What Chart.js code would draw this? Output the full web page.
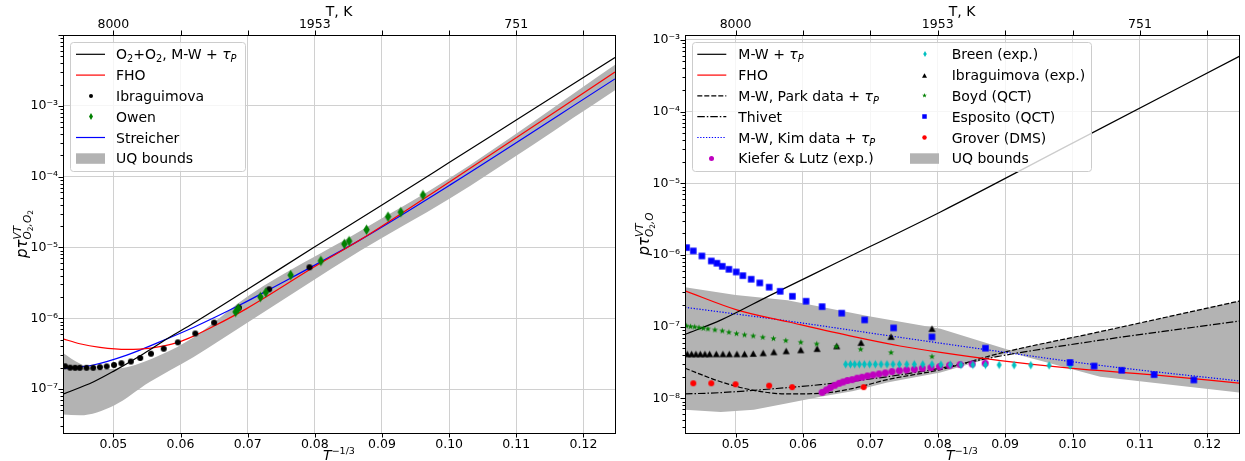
<!DOCTYPE html>
<html>
<head>
<meta charset="utf-8">
<script src="https://cdn.jsdelivr.net/npm/chart.js@4.4.1/dist/chart.umd.min.js"></script>
<style>
  html, body { margin: 0; padding: 0; background: #fff; }
  #wrap { position: relative; width: 1245px; height: 461px; }
  canvas { position: absolute; top: 0; }
</style>
</head>
<body>
<div id="wrap">
  <canvas id="left" width="622" height="461" style="left:0"></canvas>
  <canvas id="right" width="623" height="461" style="left:622px"></canvas>
</div>
<script>
// ===== AXES =====
const xTickVals = [0.05, 0.06, 0.07, 0.08, 0.09, 0.10, 0.11, 0.12];
const topTickPos = [0.05, 0.08, 0.11];
const topTickText = ['8000', '1953', '751'];
const leftYTicks = [1e-7, 1e-6, 1e-5, 1e-4, 1e-3];
const rightYTicks = [1e-8, 1e-7, 1e-6, 1e-5, 1e-4, 1e-3];

// ===== LEFT PANEL: O2 + O2 =====
const mwO2X = [0.0425, 0.0470, 0.0500, 0.0545, 0.0580, 0.0619, 0.0700, 0.0800, 0.0900, 0.1000, 0.1100, 0.1247];
const mwO2Y = [8.5e-8, 1.26e-7, 1.78e-7, 3.16e-7, 5.13e-7, 8.5e-7, 2.57e-6, 1.02e-5, 3.98e-5, 1.58e-4, 6.3e-4, 4.8e-3];
const fhoO2X = [0.0425, 0.045, 0.048, 0.052, 0.0556, 0.0596, 0.0622, 0.065, 0.0699, 0.080, 0.0867, 0.1001, 0.1247];
const fhoO2Y = [5.13e-7, 4.37e-7, 3.89e-7, 3.63e-7, 3.8e-7, 4.57e-7, 5.75e-7, 7.76e-7, 1.38e-6, 5.37e-6, 1.27e-5, 8.5e-5, 3.0e-3];
const streicherX = [0.0425, 0.047, 0.052, 0.057, 0.0619, 0.0689, 0.0733, 0.0867, 0.1001, 0.1247];
const streicherY = [1.95e-7, 2.19e-7, 3.02e-7, 4.68e-7, 7.41e-7, 1.55e-6, 2.57e-6, 1.27e-5, 7.59e-5, 2.4e-3];
const uqO2UpX = [0.0425, 0.045, 0.0473, 0.052, 0.057, 0.0619, 0.0703, 0.0867, 0.1001, 0.1247];
const uqO2UpY = [3.24e-7, 2.29e-7, 1.91e-7, 2.04e-7, 3.02e-7, 5.37e-7, 2.14e-6, 1.70e-5, 9.55e-5, 3.8e-3];
const uqO2LoX = [0.0425, 0.045, 0.0501, 0.0554, 0.0619, 0.070, 0.0867, 0.1001, 0.1247];
const uqO2LoY = [4.37e-8, 4.27e-8, 5.89e-8, 1.26e-7, 2.82e-7, 8.7e-7, 8.9e-6, 4.9e-5, 1.66e-3];
const ibrO2X = [0.0428, 0.04356, 0.0443, 0.0450, 0.0460, 0.0470, 0.0480, 0.0490, 0.0501, 0.0512, 0.0526, 0.0540, 0.0556, 0.0575, 0.0596, 0.0622, 0.0650, 0.0687, 0.0732, 0.0792];
const ibrO2Y = [2.1e-7, 2.01e-7, 2.0e-7, 2.0e-7, 2.0e-7, 2.0e-7, 2.04e-7, 2.09e-7, 2.19e-7, 2.32e-7, 2.45e-7, 2.75e-7, 3.16e-7, 3.72e-7, 4.57e-7, 6.1e-7, 8.7e-7, 1.41e-6, 2.57e-6, 5.25e-6];
const owenX = [0.0682, 0.0686, 0.0719, 0.0727, 0.0764, 0.0809, 0.0844, 0.0851, 0.0877, 0.0909, 0.0928, 0.0961];
const owenY = [1.23e-6, 1.38e-6, 2.0e-6, 2.32e-6, 4.07e-6, 6.46e-6, 1.12e-5, 1.23e-5, 1.78e-5, 2.72e-5, 3.16e-5, 5.5e-5];

// ===== RIGHT PANEL: O2 + O =====
const mwOX = [0.0425, 0.0478, 0.0552, 0.065, 0.0804, 0.100, 0.1249];
const mwOY = [7.8e-8, 1.23e-7, 2.75e-7, 7.76e-7, 3.98e-6, 3.63e-5, 6.0e-4];
const fhoOX = [0.0425, 0.0503, 0.0577, 0.0675, 0.0744, 0.0804, 0.0893, 0.0996, 0.1121, 0.1249];
const fhoOY = [3.16e-7, 1.70e-7, 1.17e-7, 7.24e-8, 5.37e-8, 4.37e-8, 3.35e-8, 2.63e-8, 2.12e-8, 1.62e-8];
const parkX = [0.0425, 0.0478, 0.0527, 0.0577, 0.0626, 0.0675, 0.0725, 0.0804, 0.0893, 0.1041, 0.1249];
const parkY = [2.63e-8, 1.70e-8, 1.29e-8, 1.15e-8, 1.17e-8, 1.38e-8, 1.82e-8, 2.51e-8, 4.27e-8, 8.5e-8, 2.29e-7];
const thivetX = [0.0425, 0.0478, 0.0552, 0.0626, 0.0725, 0.0804, 0.0893, 0.1041, 0.1249];
const thivetY = [1.15e-8, 1.20e-8, 1.35e-8, 1.55e-8, 2.0e-8, 2.63e-8, 3.89e-8, 6.46e-8, 1.20e-7];
const kimX = [0.0425, 0.0577, 0.0744, 0.0893, 0.1041, 0.1249];
const kimY = [1.86e-7, 1.20e-7, 7.08e-8, 4.47e-8, 2.88e-8, 1.74e-8];
const uqOUpX = [0.0425, 0.050, 0.0577, 0.070, 0.0804, 0.0907, 0.1041, 0.1249];
const uqOUpY = [3.55e-7, 2.75e-7, 2.34e-7, 1.38e-7, 9.3e-8, 4.68e-8, 8.5e-8, 2.29e-7];
const uqOLoX = [0.0425, 0.0478, 0.0527, 0.0577, 0.0626, 0.0675, 0.0725, 0.0804, 0.0907, 0.1041, 0.1249];
const uqOLoY = [6.9e-9, 6.46e-9, 6.9e-9, 8.5e-9, 1.05e-8, 1.26e-8, 1.66e-8, 2.29e-8, 4.37e-8, 2.0e-8, 1.20e-8];
const kieferX = [0.06284, 0.06348, 0.06407, 0.06471, 0.06536, 0.06595, 0.06659, 0.06729, 0.06803, 0.06877, 0.06956, 0.0704, 0.07129, 0.07222, 0.07321, 0.0743, 0.07538, 0.07652, 0.0777, 0.07899, 0.08027, 0.08175, 0.08333, 0.08511, 0.08704];
const kieferY = [1.21e-8, 1.31e-8, 1.41e-8, 1.52e-8, 1.62e-8, 1.69e-8, 1.77e-8, 1.82e-8, 1.91e-8, 1.97e-8, 2.05e-8, 2.12e-8, 2.19e-8, 2.26e-8, 2.36e-8, 2.43e-8, 2.49e-8, 2.54e-8, 2.62e-8, 2.68e-8, 2.77e-8, 2.89e-8, 2.95e-8, 3.01e-8, 3.08e-8];
const breenX = [0.06634, 0.06704, 0.06767, 0.06837, 0.06911, 0.0699, 0.07074, 0.07159, 0.07247, 0.07336, 0.0743, 0.07541, 0.07652, 0.07778, 0.07914, 0.08047, 0.08185, 0.08344, 0.08521, 0.08708, 0.08911, 0.09133, 0.09381, 0.09652, 0.09967];
const breenY = [2.98e-8, 2.98e-8, 2.98e-8, 2.98e-8, 2.98e-8, 2.98e-8, 2.98e-8, 2.98e-8, 2.98e-8, 2.98e-8, 2.98e-8, 2.98e-8, 2.98e-8, 2.98e-8, 2.98e-8, 2.95e-8, 2.95e-8, 2.93e-8, 2.93e-8, 2.92e-8, 2.92e-8, 2.9e-8, 2.9e-8, 2.88e-8, 2.85e-8];
const ibrOX = [0.04284, 0.04348, 0.04412, 0.04477, 0.04545, 0.04615, 0.04714, 0.04812, 0.04907, 0.0502, 0.05133, 0.05262, 0.0541, 0.05568, 0.05751, 0.05968, 0.0621, 0.06501, 0.06862, 0.07307, 0.07914];
const ibrOY = [4.16e-8, 4.16e-8, 4.16e-8, 4.16e-8, 4.16e-8, 4.16e-8, 4.16e-8, 4.16e-8, 4.16e-8, 4.16e-8, 4.16e-8, 4.21e-8, 4.30e-8, 4.44e-8, 4.58e-8, 4.73e-8, 4.93e-8, 5.37e-8, 5.98e-8, 7.26e-8, 9.38e-8];
const boydX = [0.04274, 0.04333, 0.04393, 0.04457, 0.04521, 0.0459, 0.04694, 0.04803, 0.04901, 0.05015, 0.05133, 0.05262, 0.05404, 0.05563, 0.05745, 0.05968, 0.06204, 0.06496, 0.06856, 0.07307, 0.07914];
const boydY = [1.02e-7, 1.0e-7, 9.89e-8, 9.68e-8, 9.48e-8, 9.29e-8, 8.99e-8, 8.71e-8, 8.34e-8, 7.98e-8, 7.66e-8, 7.41e-8, 7.10e-8, 6.81e-8, 6.38e-8, 6.05e-8, 5.73e-8, 5.26e-8, 4.83e-8, 4.34e-8, 3.81e-8];
const espositoX = [0.04274, 0.04373, 0.04501, 0.0464, 0.04723, 0.04803, 0.04901, 0.0501, 0.05108, 0.05232, 0.0536, 0.05499, 0.05662, 0.05844, 0.06047, 0.06284, 0.06575, 0.06916, 0.07345, 0.07914, 0.08708, 0.09963, 0.1032, 0.1073, 0.1121, 0.1180];
const espositoY = [1.265e-6, 1.138e-6, 9.68e-7, 8.24e-7, 7.66e-7, 6.95e-7, 6.31e-7, 5.79e-7, 5.14e-7, 4.58e-7, 4.07e-7, 3.55e-7, 3.11e-7, 2.65e-7, 2.26e-7, 1.90e-7, 1.54e-7, 1.24e-7, 9.6e-8, 7.18e-8, 5.01e-8, 3.16e-8, 2.82e-8, 2.46e-8, 2.14e-8, 1.80e-8];
const groverX = [0.04373, 0.0464, 0.0500, 0.05499, 0.0584, 0.06901];
const groverY = [1.62e-8, 1.62e-8, 1.57e-8, 1.50e-8, 1.43e-8, 1.43e-8];

// ===== STYLE =====
const FONT = '"DejaVu Sans", sans-serif';
const GRID = '#d0d0d0';
const BAND = '#b3b3b3';
const X_MIN = 0.0425, X_MAX = 0.1247;
Chart.defaults.font.family = FONT;
Chart.defaults.color = '#000';

function mk(kind, color, w, h) {
  const c = document.createElement('canvas');
  c.width = Math.ceil(w) + 2; c.height = Math.ceil(h) + 2;
  const g = c.getContext('2d');
  const cx = c.width / 2, cy = c.height / 2;
  g.fillStyle = color;
  g.beginPath();
  if (kind === 'diamond') {
    g.moveTo(cx, cy - h / 2); g.lineTo(cx + w / 2, cy); g.lineTo(cx, cy + h / 2); g.lineTo(cx - w / 2, cy);
  } else if (kind === 'square') {
    g.rect(cx - w / 2, cy - h / 2, w, h);
  } else if (kind === 'triangle') {
    g.moveTo(cx, cy - h / 2); g.lineTo(cx + w / 2, cy + h / 2); g.lineTo(cx - w / 2, cy + h / 2);
  } else if (kind === 'star') {
    for (let i = 0; i < 10; i++) {
      const r = i % 2 ? w * 0.2 : w / 2;
      const a = -Math.PI / 2 + i * Math.PI / 5;
      g.lineTo(cx + r * Math.cos(a), cy + r * Math.sin(a));
    }
  } else {
    g.arc(cx, cy, w / 2, 0, Math.PI * 2);
  }
  g.closePath();
  g.fill();
  return c;
}

const pts = (xs, ys) => xs.map((x, i) => ({ x, y: ys[i] }));

function lineDS(xs, ys, color, dash) {
  return { data: pts(xs, ys), borderColor: color, borderWidth: 1.2, borderDash: dash || [],
           pointRadius: 0, fill: false, cubicInterpolationMode: 'monotone', order: 5, clip: 0 };
}
function markDS(xs, ys, img, order) {
  return { data: pts(xs, ys), showLine: false, pointStyle: img, pointRadius: 4, order: order || 1, clip: 0 };
}
// UQ band: upper edge filled down to the next dataset (lower edge)
function bandDS(ux, uy, lx, ly, mode) {
  const edge = (xs, ys, fill) => ({
    data: pts(xs, ys), fill: fill, backgroundColor: BAND, borderColor: 'rgba(0,0,0,0)', borderWidth: 0,
    pointRadius: 0, cubicInterpolationMode: mode, tension: 0, order: 20, clip: 0
  });
  return [edge(ux, uy, '+1'), edge(lx, ly, false)];
}

const supMap = { '-': '⁻', '0': '⁰', '1': '¹', '2': '²', '3': '³', '4': '⁴', '5': '⁵', '6': '⁶', '7': '⁷', '8': '⁸', '9': '⁹' };
const pow10Label = v => '10' + String(Math.round(Math.log10(v))).split('').map(c => supMap[c]).join('');

function scalesFor(yMin, yMax, yTicks) {
  const tickFont = { family: FONT, size: 12.5 };
  return {
    x: {
      type: 'linear', position: 'bottom', min: X_MIN, max: X_MAX,
      afterBuildTicks: s => { s.ticks = xTickVals.map(v => ({ value: v })); },
      afterFit: s => { s.height = 28; },
      grid: { color: GRID, lineWidth: 1, drawTicks: false },
      border: { display: false },
      ticks: { padding: 4, font: tickFont, maxRotation: 0, autoSkip: false, callback: v => v.toFixed(2) }
    },
    x2: {
      type: 'linear', position: 'top', min: X_MIN, max: X_MAX,
      afterBuildTicks: s => { s.ticks = xTickVals.map(v => ({ value: v })); },
      afterFit: s => { s.height = 35; },
      grid: { drawOnChartArea: false, drawTicks: false },
      border: { display: false },
      ticks: { padding: 3, font: tickFont, maxRotation: 0, autoSkip: false,
               callback: v => { const i = topTickPos.findIndex(p => Math.abs(p - v) < 1e-6); return i < 0 ? '' : topTickText[i]; } }
    },
    y: {
      type: 'logarithmic', min: yMin, max: yMax,
      afterBuildTicks: s => { s.ticks = yTicks.map(v => ({ value: v })); },
      afterFit: s => { s.width = 63; },
      grid: { color: GRID, lineWidth: 1, drawTicks: false },
      border: { display: false },
      ticks: { padding: 5, font: tickFont, autoSkip: false, callback: v => pow10Label(v) }
    }
  };
}

// text made of pieces: [text, size, dy, italic]; '[' marks x, '|' jumps back to mark
function rich(ctx, parts, x, y, align) {
  const run = (draw, ox) => {
    let cx = 0, mark = 0, far = 0;
    for (const p of parts) {
      if (p === '[') { mark = cx; continue; }
      if (p === '|') { far = Math.max(far, cx); cx = mark; continue; }
      const [t, size, dy, it] = p;
      ctx.font = (it ? 'italic ' : '') + size + 'px ' + FONT;
      if (draw) ctx.fillText(t, ox + cx, y + (dy || 0));
      cx += ctx.measureText(t).width;
    }
    return Math.max(cx, far);
  };
  const w = run(false, 0);
  run(true, align === 'center' ? x - w / 2 : x);
}

function roundBox(ctx, x0, y0, x1, y1, r) {
  ctx.beginPath();
  ctx.moveTo(x0 + r, y0); ctx.lineTo(x1 - r, y0); ctx.quadraticCurveTo(x1, y0, x1, y0 + r);
  ctx.lineTo(x1, y1 - r); ctx.quadraticCurveTo(x1, y1, x1 - r, y1);
  ctx.lineTo(x0 + r, y1); ctx.quadraticCurveTo(x0, y1, x0, y1 - r);
  ctx.lineTo(x0, y0 + r); ctx.quadraticCurveTo(x0, y0, x0 + r, y0);
  ctx.closePath();
}

function decor(spec) {
  return {
    id: 'decor',
    afterDraw(chart) {
      const { ctx, chartArea: a, scales } = chart;
      const x = scales.x, y = scales.y;
      ctx.save();
      ctx.strokeStyle = '#000';
      ctx.lineWidth = 1;
      ctx.beginPath();
      for (const v of xTickVals) {
        const px = Math.round(x.getPixelForValue(v)) + 0.5;
        ctx.moveTo(px, a.bottom); ctx.lineTo(px, a.bottom + 4.5);
        ctx.moveTo(px, a.top); ctx.lineTo(px, a.top - 4.5);
      }
      const e0 = Math.floor(Math.log10(y.min)), e1 = Math.ceil(Math.log10(y.max));
      for (let e = e0; e <= e1; e++) {
        for (let k = 1; k <= 9; k++) {
          const v = k * Math.pow(10, e);
          if (v < y.min || v > y.max) continue;
          const py = Math.round(y.getPixelForValue(v)) + 0.5;
          ctx.moveTo(a.left, py); ctx.lineTo(a.left - (k === 1 ? 4.5 : 2.5), py);
        }
      }
      ctx.stroke();
      ctx.strokeRect(Math.round(a.left) + 0.5, Math.round(a.top) + 0.5,
                     Math.round(a.right - a.left), Math.round(a.bottom - a.top));

      // titles
      ctx.fillStyle = '#000';
      ctx.textAlign = 'left';
      ctx.textBaseline = 'alphabetic';
      const cx = (a.left + a.right) / 2;
      rich(ctx, [['T, K', 14, 0, 0]], cx, 16, 'center');
      rich(ctx, [['T', 14, 0, 1], ['−1/3', 9.5, -6, 0]], cx, 460, 'center');
      ctx.save();
      ctx.translate(spec.yTitleX, (a.top + a.bottom) / 2);
      ctx.rotate(-Math.PI / 2);
      rich(ctx, spec.yTitle, 0, 0, 'center');
      ctx.restore();

      // legend
      const L = spec.legend;
      roundBox(ctx, L.box[0] + 0.5, L.box[1] + 0.5, L.box[2] + 0.5, L.box[3] + 0.5, 3);
      ctx.fillStyle = 'rgba(255,255,255,0.8)';
      ctx.fill();
      ctx.strokeStyle = '#cccccc';
      ctx.stroke();
      for (const it of L.items) {
        const c = L.cols[it.col];
        const yy = L.row0 + it.row * L.dy;
        if (it.kind === 'line') {
          ctx.beginPath();
          ctx.setLineDash(it.dash || []);
          ctx.strokeStyle = it.color;
          ctx.lineWidth = 1.2;
          ctx.moveTo(c.hx, yy); ctx.lineTo(c.hx + 29, yy);
          ctx.stroke();
          ctx.setLineDash([]);
        } else if (it.kind === 'mark') {
          ctx.drawImage(it.img, Math.round(c.hx + 14.5 - it.img.width / 2), Math.round(yy - it.img.height / 2));
        } else {
          ctx.fillStyle = BAND;
          ctx.fillRect(c.hx, yy - 5, 29, 10.5);
        }
        ctx.fillStyle = '#000';
        rich(ctx, it.text, c.tx, yy + 5, 'left');
      }
      ctx.restore();
    }
  };
}

const T = (t) => [t, 14, 0, 0];
const tauP = [['τ', 14, 0, 1], ['P', 9.8, 3, 1]];

// ===== LEFT CHART =====
new Chart(document.getElementById('left'), {
  type: 'line',
  data: {
    datasets: [
      ...bandDS(uqO2UpX, uqO2UpY, uqO2LoX, uqO2LoY, 'monotone'),
      lineDS(mwO2X, mwO2Y, '#000000'),
      lineDS(fhoO2X, fhoO2Y, '#ff0000'),
      lineDS(streicherX, streicherY, '#0000ff'),
      markDS(ibrO2X, ibrO2Y, mk('circle', '#000', 6, 6), 2),
      markDS(owenX, owenY, mk('diamond', '#008000', 6.5, 10.5), 1)
    ]
  },
  options: {
    responsive: false, animation: false, events: [],
    layout: { padding: { left: 0, right: 7, top: 0, bottom: 0 } },
    plugins: { legend: { display: false }, tooltip: { enabled: false } },
    scales: scalesFor(2.4e-8, 1e-2, leftYTicks)
  },
  plugins: [decor({
    yTitleX: 27,
    yTitle: [['p', 15, 0, 1], ['τ', 15, 0, 1], '[', ['VT', 10.5, -6.5, 1], '|',
             ['O', 10.5, 4, 1], ['2', 7.5, 6, 0], [',', 10.5, 4, 1], ['O', 10.5, 4, 1], ['2', 7.5, 6, 0]],
    legend: {
      box: [70, 42, 245, 171], row0: 54.3, dy: 20.8,
      cols: [{ hx: 76, tx: 116 }],
      items: [
        { col: 0, row: 0, kind: 'line', color: '#000', text: [T('O'), ['2', 9.8, 3, 0], T('+O'), ['2', 9.8, 3, 0], T(', M-W + '), ...tauP] },
        { col: 0, row: 1, kind: 'line', color: '#ff0000', text: [T('FHO')] },
        { col: 0, row: 2, kind: 'mark', img: mk('circle', '#000', 4, 4), text: [T('Ibraguimova')] },
        { col: 0, row: 3, kind: 'mark', img: mk('diamond', '#008000', 4, 7), text: [T('Owen')] },
        { col: 0, row: 4, kind: 'line', color: '#0000ff', text: [T('Streicher')] },
        { col: 0, row: 5, kind: 'patch', text: [T('UQ bounds')] }
      ]
    }
  })]
});

// ===== RIGHT CHART =====
const DASH = [5, 2], DASHDOT = [7.5, 2, 1.5, 2], DOT = [1.3, 1.6];
new Chart(document.getElementById('right'), {
  type: 'line',
  data: {
    datasets: [
      ...bandDS(uqOUpX, uqOUpY, uqOLoX, uqOLoY, 'default'),
      lineDS(mwOX, mwOY, '#000000'),
      lineDS(fhoOX, fhoOY, '#ff0000'),
      lineDS(parkX, parkY, '#000000', DASH),
      lineDS(thivetX, thivetY, '#000000', DASHDOT),
      lineDS(kimX, kimY, '#0000ff', DOT),
      markDS(kieferX, kieferY, mk('circle', '#bf00bf', 7, 7), 4),
      markDS(breenX, breenY, mk('diamond', '#00bfbf', 5, 8.5), 3),
      markDS(ibrOX, ibrOY, mk('triangle', '#000', 7, 6.5), 3),
      markDS(boydX, boydY, mk('star', '#008000', 6.5, 6.5), 2),
      markDS(espositoX, espositoY, mk('square', '#0000ff', 6.5, 6.5), 1),
      markDS(groverX, groverY, mk('circle', '#ff0000', 6, 6), 1)
    ]
  },
  options: {
    responsive: false, animation: false, events: [],
    layout: { padding: { left: 0, right: 6, top: 0, bottom: 0 } },
    plugins: { legend: { display: false }, tooltip: { enabled: false } },
    scales: scalesFor(3.28e-9, 1.17e-3, rightYTicks)
  },
  plugins: [decor({
    yTitleX: 27,
    yTitle: [['p', 15, 0, 1], ['τ', 15, 0, 1], '[', ['VT', 10.5, -6.5, 1], '|',
             ['O', 10.5, 4, 1], ['2', 7.5, 6, 0], [',', 10.5, 4, 1], ['O', 10.5, 4, 1]],
    legend: {
      box: [70, 42, 469, 171], row0: 54.3, dy: 20.8,
      cols: [{ hx: 75.3, tx: 116.3 }, { hx: 288, tx: 329.7 }],
      items: [
        { col: 0, row: 0, kind: 'line', color: '#000', text: [T('M-W + '), ...tauP] },
        { col: 0, row: 1, kind: 'line', color: '#ff0000', text: [T('FHO')] },
        { col: 0, row: 2, kind: 'line', color: '#000', dash: DASH, text: [T('M-W, Park data + '), ...tauP] },
        { col: 0, row: 3, kind: 'line', color: '#000', dash: DASHDOT, text: [T('Thivet')] },
        { col: 0, row: 4, kind: 'line', color: '#0000ff', dash: DOT, text: [T('M-W, Kim data + '), ...tauP] },
        { col: 0, row: 5, kind: 'mark', img: mk('circle', '#bf00bf', 5, 5), text: [T('Kiefer & Lutz (exp.)')] },
        { col: 1, row: 0, kind: 'mark', img: mk('diamond', '#00bfbf', 3.5, 6), text: [T('Breen (exp.)')] },
        { col: 1, row: 1, kind: 'mark', img: mk('triangle', '#000', 5, 4.5), text: [T('Ibraguimova (exp.)')] },
        { col: 1, row: 2, kind: 'mark', img: mk('star', '#008000', 5, 5), text: [T('Boyd (QCT)')] },
        { col: 1, row: 3, kind: 'mark', img: mk('square', '#0000ff', 4.5, 4.5), text: [T('Esposito (QCT)')] },
        { col: 1, row: 4, kind: 'mark', img: mk('circle', '#ff0000', 4.5, 4.5), text: [T('Grover (DMS)')] },
        { col: 1, row: 5, kind: 'patch', text: [T('UQ bounds')] }
      ]
    }
  })]
});
</script>
</body>
</html>
